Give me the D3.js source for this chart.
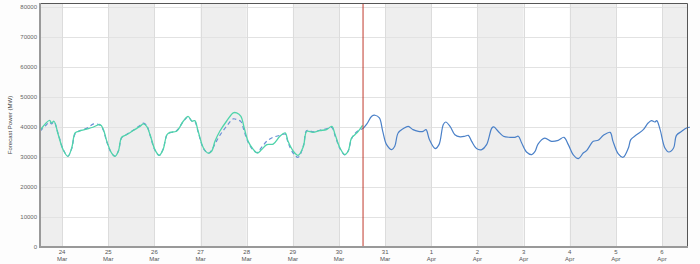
<!DOCTYPE html>
<html>
<head>
<meta charset="utf-8">
<script src="https://cdn.jsdelivr.net/npm/d3@7"></script>
<style>
  html, body { margin: 0; padding: 0; background: #fdfdfd; }
  #chart { width: 700px; height: 264px; }
  text { font-family: "Liberation Sans", Arial, sans-serif; }
</style>
</head>
<body>
<div id="chart"></div>
<script>
// measured load up to "now"
const actualLoad = [
  ["2024-03-23 12:30", 38900], ["2024-03-23 17:30", 42200], ["2024-03-23 18:30", 41300],
  ["2024-03-23 19:45", 41900], ["2024-03-23 22:00", 37400], ["2024-03-24 00:30", 32450],
  ["2024-03-24 03:00", 30200], ["2024-03-24 05:00", 33000], ["2024-03-24 06:45", 38000],
  ["2024-03-24 08:30", 38550], ["2024-03-24 12:45", 39300], ["2024-03-24 16:00", 39900],
  ["2024-03-24 19:45", 40800], ["2024-03-24 21:30", 39100], ["2024-03-24 23:15", 35200],
  ["2024-03-25 01:45", 31300], ["2024-03-25 03:30", 30200], ["2024-03-25 05:15", 31900],
  ["2024-03-25 07:00", 36600], ["2024-03-25 09:30", 37400], ["2024-03-25 13:00", 38800],
  ["2024-03-25 16:30", 40200], ["2024-03-25 18:15", 41000], ["2024-03-25 20:00", 40200],
  ["2024-03-25 21:45", 37400], ["2024-03-26 00:15", 32450], ["2024-03-26 02:30", 30550],
  ["2024-03-26 04:30", 32450], ["2024-03-26 06:30", 37400], ["2024-03-26 08:00", 38200],
  ["2024-03-26 11:30", 38550], ["2024-03-26 15:00", 41900], ["2024-03-26 17:30", 43550],
  ["2024-03-26 19:30", 41900], ["2024-03-26 21:00", 42100], ["2024-03-26 22:45", 38550],
  ["2024-03-27 01:30", 33000], ["2024-03-27 04:00", 31300], ["2024-03-27 05:45", 31900],
  ["2024-03-27 07:30", 35200], ["2024-03-27 10:00", 38550], ["2024-03-27 13:30", 41900],
  ["2024-03-27 17:00", 44700], ["2024-03-27 18:45", 44700], ["2024-03-27 21:00", 43550],
  ["2024-03-27 22:30", 40200], ["2024-03-28 00:45", 35200], ["2024-03-28 03:30", 32450],
  ["2024-03-28 05:30", 31300], ["2024-03-28 07:45", 32450], ["2024-03-28 10:30", 34100],
  ["2024-03-28 13:45", 34300], ["2024-03-28 17:15", 36900], ["2024-03-28 20:00", 38000],
  ["2024-03-28 21:30", 35200], ["2024-03-29 00:15", 31900], ["2024-03-29 02:45", 30550],
  ["2024-03-29 05:30", 33550], ["2024-03-29 07:15", 38550], ["2024-03-29 10:30", 38200],
  ["2024-03-29 14:00", 38800], ["2024-03-29 17:30", 39100], ["2024-03-29 20:15", 40200],
  ["2024-03-29 22:00", 37400], ["2024-03-30 00:30", 33000], ["2024-03-30 03:00", 30800],
  ["2024-03-30 04:45", 31900], ["2024-03-30 06:30", 36300], ["2024-03-30 08:15", 37400],
  ["2024-03-30 10:00", 38550], ["2024-03-30 12:15", 40550]
];

// day-ahead forecast for the past week (dashed)
const pastForecast = [
  ["2024-03-23 12:30", 38550], ["2024-03-23 15:30", 40500], ["2024-03-23 17:30", 41600],
  ["2024-03-23 18:30", 41000], ["2024-03-23 19:45", 41700], ["2024-03-23 22:00", 37600],
  ["2024-03-24 00:30", 32600], ["2024-03-24 03:00", 30300], ["2024-03-24 05:00", 32800],
  ["2024-03-24 06:45", 37700], ["2024-03-24 09:00", 38700], ["2024-03-24 13:00", 39600],
  ["2024-03-24 16:30", 41000], ["2024-03-24 19:45", 40600], ["2024-03-24 21:30", 38800],
  ["2024-03-24 23:15", 35000], ["2024-03-25 01:45", 31200], ["2024-03-25 03:30", 30300],
  ["2024-03-25 05:15", 32000], ["2024-03-25 07:00", 36400], ["2024-03-25 09:30", 37500],
  ["2024-03-25 13:00", 38900], ["2024-03-25 16:30", 40500], ["2024-03-25 18:15", 41300],
  ["2024-03-25 20:00", 40500], ["2024-03-25 21:45", 37200], ["2024-03-26 00:15", 32300],
  ["2024-03-26 02:30", 30500], ["2024-03-26 04:30", 32600], ["2024-03-26 06:30", 37300],
  ["2024-03-26 08:00", 38000], ["2024-03-26 11:30", 38700], ["2024-03-26 15:00", 41800],
  ["2024-03-26 17:30", 43300], ["2024-03-26 19:30", 42000], ["2024-03-26 21:00", 41800],
  ["2024-03-26 22:45", 38300], ["2024-03-27 01:30", 32800], ["2024-03-27 04:00", 31200],
  ["2024-03-27 05:45", 32200], ["2024-03-27 07:30", 34300], ["2024-03-27 10:00", 37200],
  ["2024-03-27 13:30", 40200], ["2024-03-27 17:00", 42700], ["2024-03-27 19:00", 42400],
  ["2024-03-27 21:00", 41800], ["2024-03-27 22:30", 39000], ["2024-03-28 00:45", 34900],
  ["2024-03-28 03:30", 32200], ["2024-03-28 05:30", 31500], ["2024-03-28 07:45", 33200],
  ["2024-03-28 10:30", 35300], ["2024-03-28 13:30", 36500], ["2024-03-28 17:15", 37200],
  ["2024-03-28 20:00", 37600], ["2024-03-28 21:30", 34800], ["2024-03-29 00:15", 31200],
  ["2024-03-29 02:45", 29900], ["2024-03-29 05:30", 33800], ["2024-03-29 07:15", 38800],
  ["2024-03-29 10:30", 38400], ["2024-03-29 14:00", 38900], ["2024-03-29 17:30", 39400],
  ["2024-03-29 20:15", 39800], ["2024-03-29 22:00", 37000], ["2024-03-30 00:30", 32800],
  ["2024-03-30 03:00", 30700], ["2024-03-30 04:45", 32000], ["2024-03-30 06:30", 36000],
  ["2024-03-30 08:15", 37800], ["2024-03-30 10:00", 38800], ["2024-03-30 12:30", 39500]
];

// forecast for the coming week
const forecast = [
  ["2024-03-30 12:30", 39450], ["2024-03-30 14:30", 41000], ["2024-03-30 17:00", 43550],
  ["2024-03-30 18:45", 43900], ["2024-03-30 21:00", 43000], ["2024-03-30 22:45", 38550],
  ["2024-03-31 00:45", 34100], ["2024-03-31 03:30", 32450], ["2024-03-31 05:00", 33550],
  ["2024-03-31 06:45", 38000], ["2024-03-31 09:30", 39450], ["2024-03-31 12:00", 40200],
  ["2024-03-31 14:30", 39100], ["2024-03-31 17:15", 38550], ["2024-03-31 19:45", 38550],
  ["2024-03-31 21:15", 39100], ["2024-03-31 23:00", 35800], ["2024-04-01 02:00", 32800],
  ["2024-04-01 04:00", 34100], ["2024-04-01 06:15", 40800], ["2024-04-01 07:30", 41650],
  ["2024-04-01 09:45", 40200], ["2024-04-01 12:15", 37400], ["2024-04-01 15:00", 36700],
  ["2024-04-01 17:30", 36900], ["2024-04-01 19:15", 37200], ["2024-04-01 21:00", 35200],
  ["2024-04-01 23:30", 32800], ["2024-04-02 02:15", 32450], ["2024-04-02 04:45", 34100],
  ["2024-04-02 07:30", 39650], ["2024-04-02 08:30", 40000], ["2024-04-02 10:45", 38550],
  ["2024-04-02 13:30", 36900], ["2024-04-02 17:00", 36550], ["2024-04-02 19:30", 36550],
  ["2024-04-02 21:15", 36900], ["2024-04-02 23:00", 34650], ["2024-04-03 01:30", 31650],
  ["2024-04-03 04:15", 30800], ["2024-04-03 06:00", 31900], ["2024-04-03 07:30", 34300],
  ["2024-04-03 11:00", 36300], ["2024-04-03 14:30", 35200], ["2024-04-03 18:00", 35550],
  ["2024-04-03 21:00", 36550], ["2024-04-03 23:15", 34100], ["2024-04-04 01:45", 30800],
  ["2024-04-04 04:30", 29450], ["2024-04-04 07:00", 31300], ["2024-04-04 08:45", 32100],
  ["2024-04-04 12:15", 35200], ["2024-04-04 14:45", 35550], ["2024-04-04 17:30", 37200],
  ["2024-04-04 21:00", 38200], ["2024-04-04 22:30", 35200], ["2024-04-05 01:15", 31000],
  ["2024-04-05 03:45", 29900], ["2024-04-05 06:30", 33000], ["2024-04-05 07:45", 35800],
  ["2024-04-05 10:45", 37400], ["2024-04-05 14:15", 39100], ["2024-04-05 16:45", 41300],
  ["2024-04-05 18:30", 42100], ["2024-04-05 20:15", 41650], ["2024-04-05 21:15", 42100],
  ["2024-04-05 23:00", 39100], ["2024-04-06 01:30", 33000], ["2024-04-06 03:30", 31650],
  ["2024-04-06 06:00", 33000], ["2024-04-06 07:30", 37200], ["2024-04-06 10:15", 38550],
  ["2024-04-06 12:45", 39650], ["2024-04-06 14:30", 39900]
];

const yTicks = [0, 10000, 20000, 30000, 40000, 50000, 60000, 70000, 80000];
const timeRange = ["2024-03-23 12:30", "2024-04-06 13:30"];
const nowTime = "2024-03-30 12:30";
const yMax = 81300;
const yTitle = "Forecast Power (MW)";

const parse = d3.timeParse("%Y-%m-%d %H:%M");
const toPts = arr => arr.map(([t, v]) => ({ t: parse(t), v }));

const width = 700, height = 264;
const margin = { top: 3, right: 12, bottom: 17, left: 40 };

const svg = d3.select("#chart").append("svg")
  .attr("width", width)
  .attr("height", height);

const x = d3.scaleTime()
  .domain(timeRange.map(parse))
  .range([margin.left, width - margin.right]);

const y = d3.scaleLinear()
  .domain([0, yMax])
  .range([height - margin.bottom, margin.top]);

// plot background
svg.append("rect")
  .attr("x", margin.left).attr("y", margin.top)
  .attr("width", width - margin.left - margin.right)
  .attr("height", height - margin.top - margin.bottom)
  .attr("fill", "#fff");

// alternating day shading
const [t0, t1] = x.domain();
const days = d3.timeDay.range(d3.timeDay.floor(t0), t1);
svg.append("g")
  .selectAll("rect")
  .data(days.filter((d, i) => i % 2 === 0))
  .join("rect")
  .attr("x", d => Math.max(x(d), margin.left))
  .attr("y", margin.top)
  .attr("width", d => Math.min(x(d3.timeDay.offset(d, 1)), width - margin.right) - Math.max(x(d), margin.left))
  .attr("height", height - margin.top - margin.bottom)
  .attr("fill", "#eeeeee");

// horizontal grid
svg.append("g")
  .selectAll("line")
  .data(yTicks)
  .join("line")
  .attr("x1", margin.left).attr("x2", width - margin.right)
  .attr("y1", d => Math.round(y(d)) + 0.5).attr("y2", d => Math.round(y(d)) + 0.5)
  .attr("stroke", "#e2e2e2");

// vertical grid at midnight
const dayTicks = d3.timeDay.range(d3.timeDay.ceil(t0), t1);
svg.append("g")
  .selectAll("line")
  .data(dayTicks)
  .join("line")
  .attr("x1", d => Math.round(x(d)) + 0.5).attr("x2", d => Math.round(x(d)) + 0.5)
  .attr("y1", margin.top).attr("y2", height - margin.bottom)
  .attr("stroke", "#dcdcdc");

// y tick labels
svg.append("g")
  .selectAll("text")
  .data(yTicks)
  .join("text")
  .attr("x", margin.left - 3)
  .attr("y", d => y(d))
  .attr("dy", "0.35em")
  .attr("text-anchor", "end")
  .attr("font-size", 6)
  .attr("fill", "#666")
  .text(d => d);

// x tick labels (day / month)
const xl = svg.append("g")
  .selectAll("text")
  .data(dayTicks)
  .join("text")
  .attr("x", d => x(d))
  .attr("y", height - margin.bottom + 7)
  .attr("text-anchor", "middle")
  .attr("font-size", 6)
  .attr("fill", "#555");
xl.append("tspan").attr("x", d => x(d)).text(d3.timeFormat("%-d"));
xl.append("tspan").attr("x", d => x(d)).attr("dy", 7).text(d3.timeFormat("%b"));

// y title
svg.append("text")
  .attr("transform", `translate(12,${(margin.top + height - margin.bottom) / 2}) rotate(-90)`)
  .attr("text-anchor", "middle")
  .attr("font-size", 6)
  .attr("fill", "#444")
  .text(yTitle);

const line = d3.line()
  .x(d => x(d.t))
  .y(d => y(d.v))
  .curve(d3.curveCatmullRom.alpha(0.5));

svg.append("path")
  .datum(toPts(pastForecast))
  .attr("d", line)
  .attr("fill", "none")
  .attr("stroke", "#6a8fd6")
  .attr("stroke-width", 1.2)
  .attr("stroke-dasharray", "4,3");

svg.append("path")
  .datum(toPts(actualLoad))
  .attr("d", line)
  .attr("fill", "none")
  .attr("stroke", "#4fd4aa")
  .attr("stroke-width", 1.3);

svg.append("path")
  .datum(toPts(forecast))
  .attr("d", line)
  .attr("fill", "none")
  .attr("stroke", "#4a80c8")
  .attr("stroke-width", 1.2);

// "now" marker
svg.append("line")
  .attr("x1", x(parse(nowTime))).attr("x2", x(parse(nowTime)))
  .attr("y1", margin.top).attr("y2", height - margin.bottom)
  .attr("stroke", "#c0392b")
  .attr("stroke-width", 1);

// frame: dark top/right, grey left/bottom axis
const right = width - margin.right, bottom = height - margin.bottom;
svg.append("path")
  .attr("d", `M${margin.left},${margin.top + 0.5}H${right - 0.5}V${bottom}`)
  .attr("fill", "none")
  .attr("stroke", "#555")
  .attr("stroke-width", 1);
svg.append("path")
  .attr("d", `M${margin.left},${margin.top}V${bottom}H${right}`)
  .attr("fill", "none")
  .attr("stroke", "#999")
  .attr("stroke-width", 2);
</script>
</body>
</html>
